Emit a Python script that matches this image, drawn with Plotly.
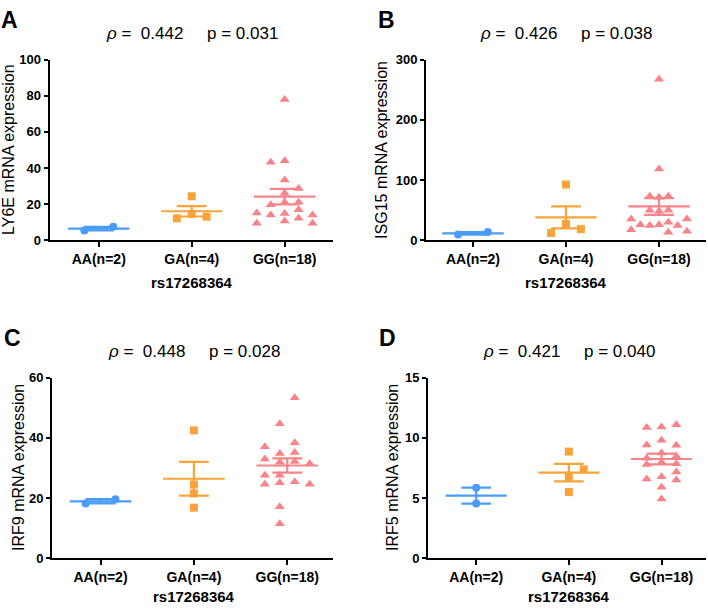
import plotly.graph_objects as go

groups = ["AA(n=2)", "GA(n=4)", "GG(n=18)"]
blue, orange, pink = "#4A9CF8", "#F9A33A", "#F8848A"

# values, plus column slot of each point in its dot-column
ly6e_aa = [5.4, 7.4]
ly6e_aa_col = [-1, 1]
ly6e_ga = [24.3, 12.1, 13.0, 14.6]
ly6e_ga_col = [0, -1, 1, 0]
ly6e_gg = [78, 43.2, 44, 33.3, 28.6, 26, 19.6, 21, 21, 15.1, 13.9, 14.8, 16.8, 13.9, 9.4, 10.6, 9.4, 12.1]
ly6e_gg_col = [0, -1, 0, 0, 1, 0, -1, 0, 1, -2, -1, 0, 1, 2, -2, 0, 2, 1]
ly6e_mean = [6.4, 16.0, 24.1]
ly6e_sem = [1.0, 2.9, 4.3]

isg15_aa = [9.2, 13.5]
isg15_aa_col = [-1, 1]
isg15_ga = [92.4, 11.9, 27.0, 18.4]
isg15_ga_col = [0, -1, 0, 1]
isg15_gg = [267.6, 118.4, 73, 71.4, 73, 49.7, 48.1, 49.7, 35.1, 35.1, 17.3, 25.4, 24.3, 25.4, 29.7, 24.3, 14.6, 13]
isg15_gg_col = [0, 0, -1, 0, 1, -1, 0, 1, -3, 3, -3, -2, -1, 0, 1, 2, 3, 1]
isg15_mean = [11.3, 37.9, 56.0]
isg15_sem = [2.2, 18.2, 14.0]

irf9_aa = [18.2, 19.6]
irf9_aa_col = [-1, 1]
irf9_ga = [42.5, 24.5, 21.5, 16.8]
irf9_ga_col = [0, 0, 0, 0]
irf9_gg = [53.3, 44.7, 37, 38.4, 33, 34.8, 35.1, 31.4, 31.9, 32.1, 27.6, 27.6, 24.6, 25.1, 25.4, 24.6, 17.1, 11.4]
irf9_gg_col = [0.5, -0.5, -1.5, 0.5, -1.5, -0.5, 0.5, 1.5, -0.5, 0.5, -1.5, -0.5, -1.5, -0.5, 0.5, 1.5, -0.5, -0.5]
irf9_mean = [18.9, 26.4, 30.8]
irf9_sem = [0.7, 5.6, 2.35]

irf5_aa = [5.86, 4.54]
irf5_aa_col = [0, 0]
irf5_ga = [8.86, 7.38, 6.76, 5.49]
irf5_ga_col = [0, 1, 0, 0]
irf5_gg = [10.86, 10.9, 11.08, 9.8, 9.4, 9.38, 8.73, 8.3, 8.46, 7.78, 7.97, 7.84, 7.16, 6.57, 6.76, 6.49, 5.9, 4.92]
irf5_gg_col = [-1, 0, 1, 0, -1, 1, 0, -1, 1, -1, 0, 1, 1, -1, 0, 1, 0, 0]
irf5_mean = [5.2, 7.11, 8.24]
irf5_sem = [0.66, 0.72, 0.45]

panels = [
    dict(letter="A", gene="LY6E", rho="0.442", p="0.031", ymax=100, dtick=20,
         pts=[(ly6e_aa, ly6e_aa_col), (ly6e_ga, ly6e_ga_col), (ly6e_gg, ly6e_gg_col)],
         mean=ly6e_mean, sem=ly6e_sem, xdom=[49.5, 333], ydom=[54, 239], xr=[-0.53, 2.52],
         ytx=9, spacing=[0.155, 0.16, 0.15], xt=43),
    dict(letter="B", gene="ISG15", rho="0.426", p="0.038", ymax=300, dtick=100,
         pts=[(isg15_aa, isg15_aa_col), (isg15_ga, isg15_ga_col), (isg15_gg, isg15_gg_col)],
         mean=isg15_mean, sem=isg15_sem, xdom=[426, 706], ydom=[54, 239], xr=[-0.505, 2.505],
         ytx=382, spacing=[0.16, 0.16, 0.1], xt=43),
    dict(letter="C", gene="IRF9", rho="0.448", p="0.028", ymax=60, dtick=20,
         pts=[(irf9_aa, irf9_aa_col), (irf9_ga, irf9_ga_col), (irf9_gg, irf9_gg_col)],
         mean=irf9_mean, sem=irf9_sem, xdom=[52, 333], ydom=[380, 565], xr=[-0.52, 2.49],
         ytx=19, spacing=[0.16, 0.16, 0.16], xt=39),
    dict(letter="D", gene="IRF5", rho="0.421", p="0.040", ymax=15, dtick=5,
         pts=[(irf5_aa, irf5_aa_col), (irf5_ga, irf5_ga_col), (irf5_gg, irf5_gg_col)],
         mean=irf5_mean, sem=irf5_sem, xdom=[428, 706], ydom=[380, 565], xr=[-0.52, 2.48],
         ytx=393, spacing=[0.16, 0.16, 0.16], xt=39),
]

W, H = 708, 612
colors = [blue, orange, pink]
symbols = ["circle", "square", "triangle-up"]
sizes = [8, 8, 9]
font = "Arial, Liberation Sans, sans-serif"

fig = go.Figure()
annotations = []
layout = {}
for k, pn in enumerate(panels):
    n = "" if k == 0 else str(k + 1)
    xa, ya = "x" + n, "y" + n
    for g in range(3):
        vals, cols = pn["pts"][g]
        xs = [g + c * pn["spacing"][g] for c in cols]
        fig.add_trace(go.Scatter(x=xs, y=vals, mode="markers", xaxis=xa, yaxis=ya,
                                 marker=dict(symbol=symbols[g], size=sizes[g], color=colors[g]),
                                 cliponaxis=False, showlegend=False))
        m, s = pn["mean"][g], pn["sem"][g]
        lx = [g - 0.33, g + 0.33, None, g - 0.16, g + 0.16, None, g - 0.16, g + 0.16, None, g, g]
        ly = [m, m, None, m + s, m + s, None, m - s, m - s, None, m - s, m + s]
        fig.add_trace(go.Scatter(x=lx, y=ly, mode="lines", xaxis=xa, yaxis=ya,
                                 line=dict(color=colors[g], width=2.2),
                                 cliponaxis=False, showlegend=False))
    x0, x1 = pn["xdom"]
    yt, yb = pn["ydom"]
    layout["xaxis" + n] = dict(domain=[x0 / W, x1 / W], anchor=ya, range=pn["xr"],
                               tickvals=[0, 1, 2], ticktext=groups, showline=True,
                               linecolor="black", linewidth=2, ticks="outside", ticklen=5,
                               tickwidth=2, tickcolor="black", showgrid=False, zeroline=False,
                               tickfont=dict(family=font, size=14, color="black", weight="bold"))
    layout["yaxis" + n] = dict(domain=[(H - yb) / H, (H - yt) / H], anchor=xa,
                               range=[0, pn["ymax"]], dtick=pn["dtick"], showline=True,
                               linecolor="black", linewidth=2, ticks="outside", ticklen=4,
                               tickwidth=2, tickcolor="black", showgrid=False, zeroline=False,
                               tickfont=dict(family=font, size=13, color="black", weight="bold"))
    cx = x0 + (1 - pn["xr"][0]) / (pn["xr"][1] - pn["xr"][0]) * (x1 - x0)
    annotations += [
        dict(text="<i>ρ</i> =\u00a0 " + pn["rho"] + "\u00a0\u00a0\u00a0\u00a0 p = " + pn["p"],
             x=cx / W, y=(H - (yt - 27)) / H, xref="paper", yref="paper",
             showarrow=False, xanchor="center", yanchor="middle",
             font=dict(family=font, size=17, color="black")),
        dict(text="<b>" + pn["letter"] + "</b>", x=(x0 - 40) / W, y=(H - (yt - 41)) / H,
             xref="paper", yref="paper", showarrow=False, xanchor="center", yanchor="middle",
             font=dict(family=font, size=23, color="black")),
        dict(text=pn["gene"] + " mRNA expression", x=pn["ytx"] / W, y=(H - (yt + yb) / 2) / H,
             xref="paper", yref="paper", showarrow=False, textangle=-90,
             xanchor="center", yanchor="middle", font=dict(family=font, size=16, color="black")),
        dict(text="<b>rs17268364</b>", x=cx / W, y=(H - (yb + pn["xt"])) / H,
             xref="paper", yref="paper", showarrow=False, xanchor="center", yanchor="middle",
             font=dict(family=font, size=15, color="black")),
    ]

fig.update_layout(width=W, height=H, margin=dict(l=0, r=0, t=0, b=0),
                  plot_bgcolor="white", paper_bgcolor="white",
                  annotations=annotations, **layout)
fig.write_html("out.html", config={"displayModeBar": False},
               post_script="document.body.style.margin='0';")
